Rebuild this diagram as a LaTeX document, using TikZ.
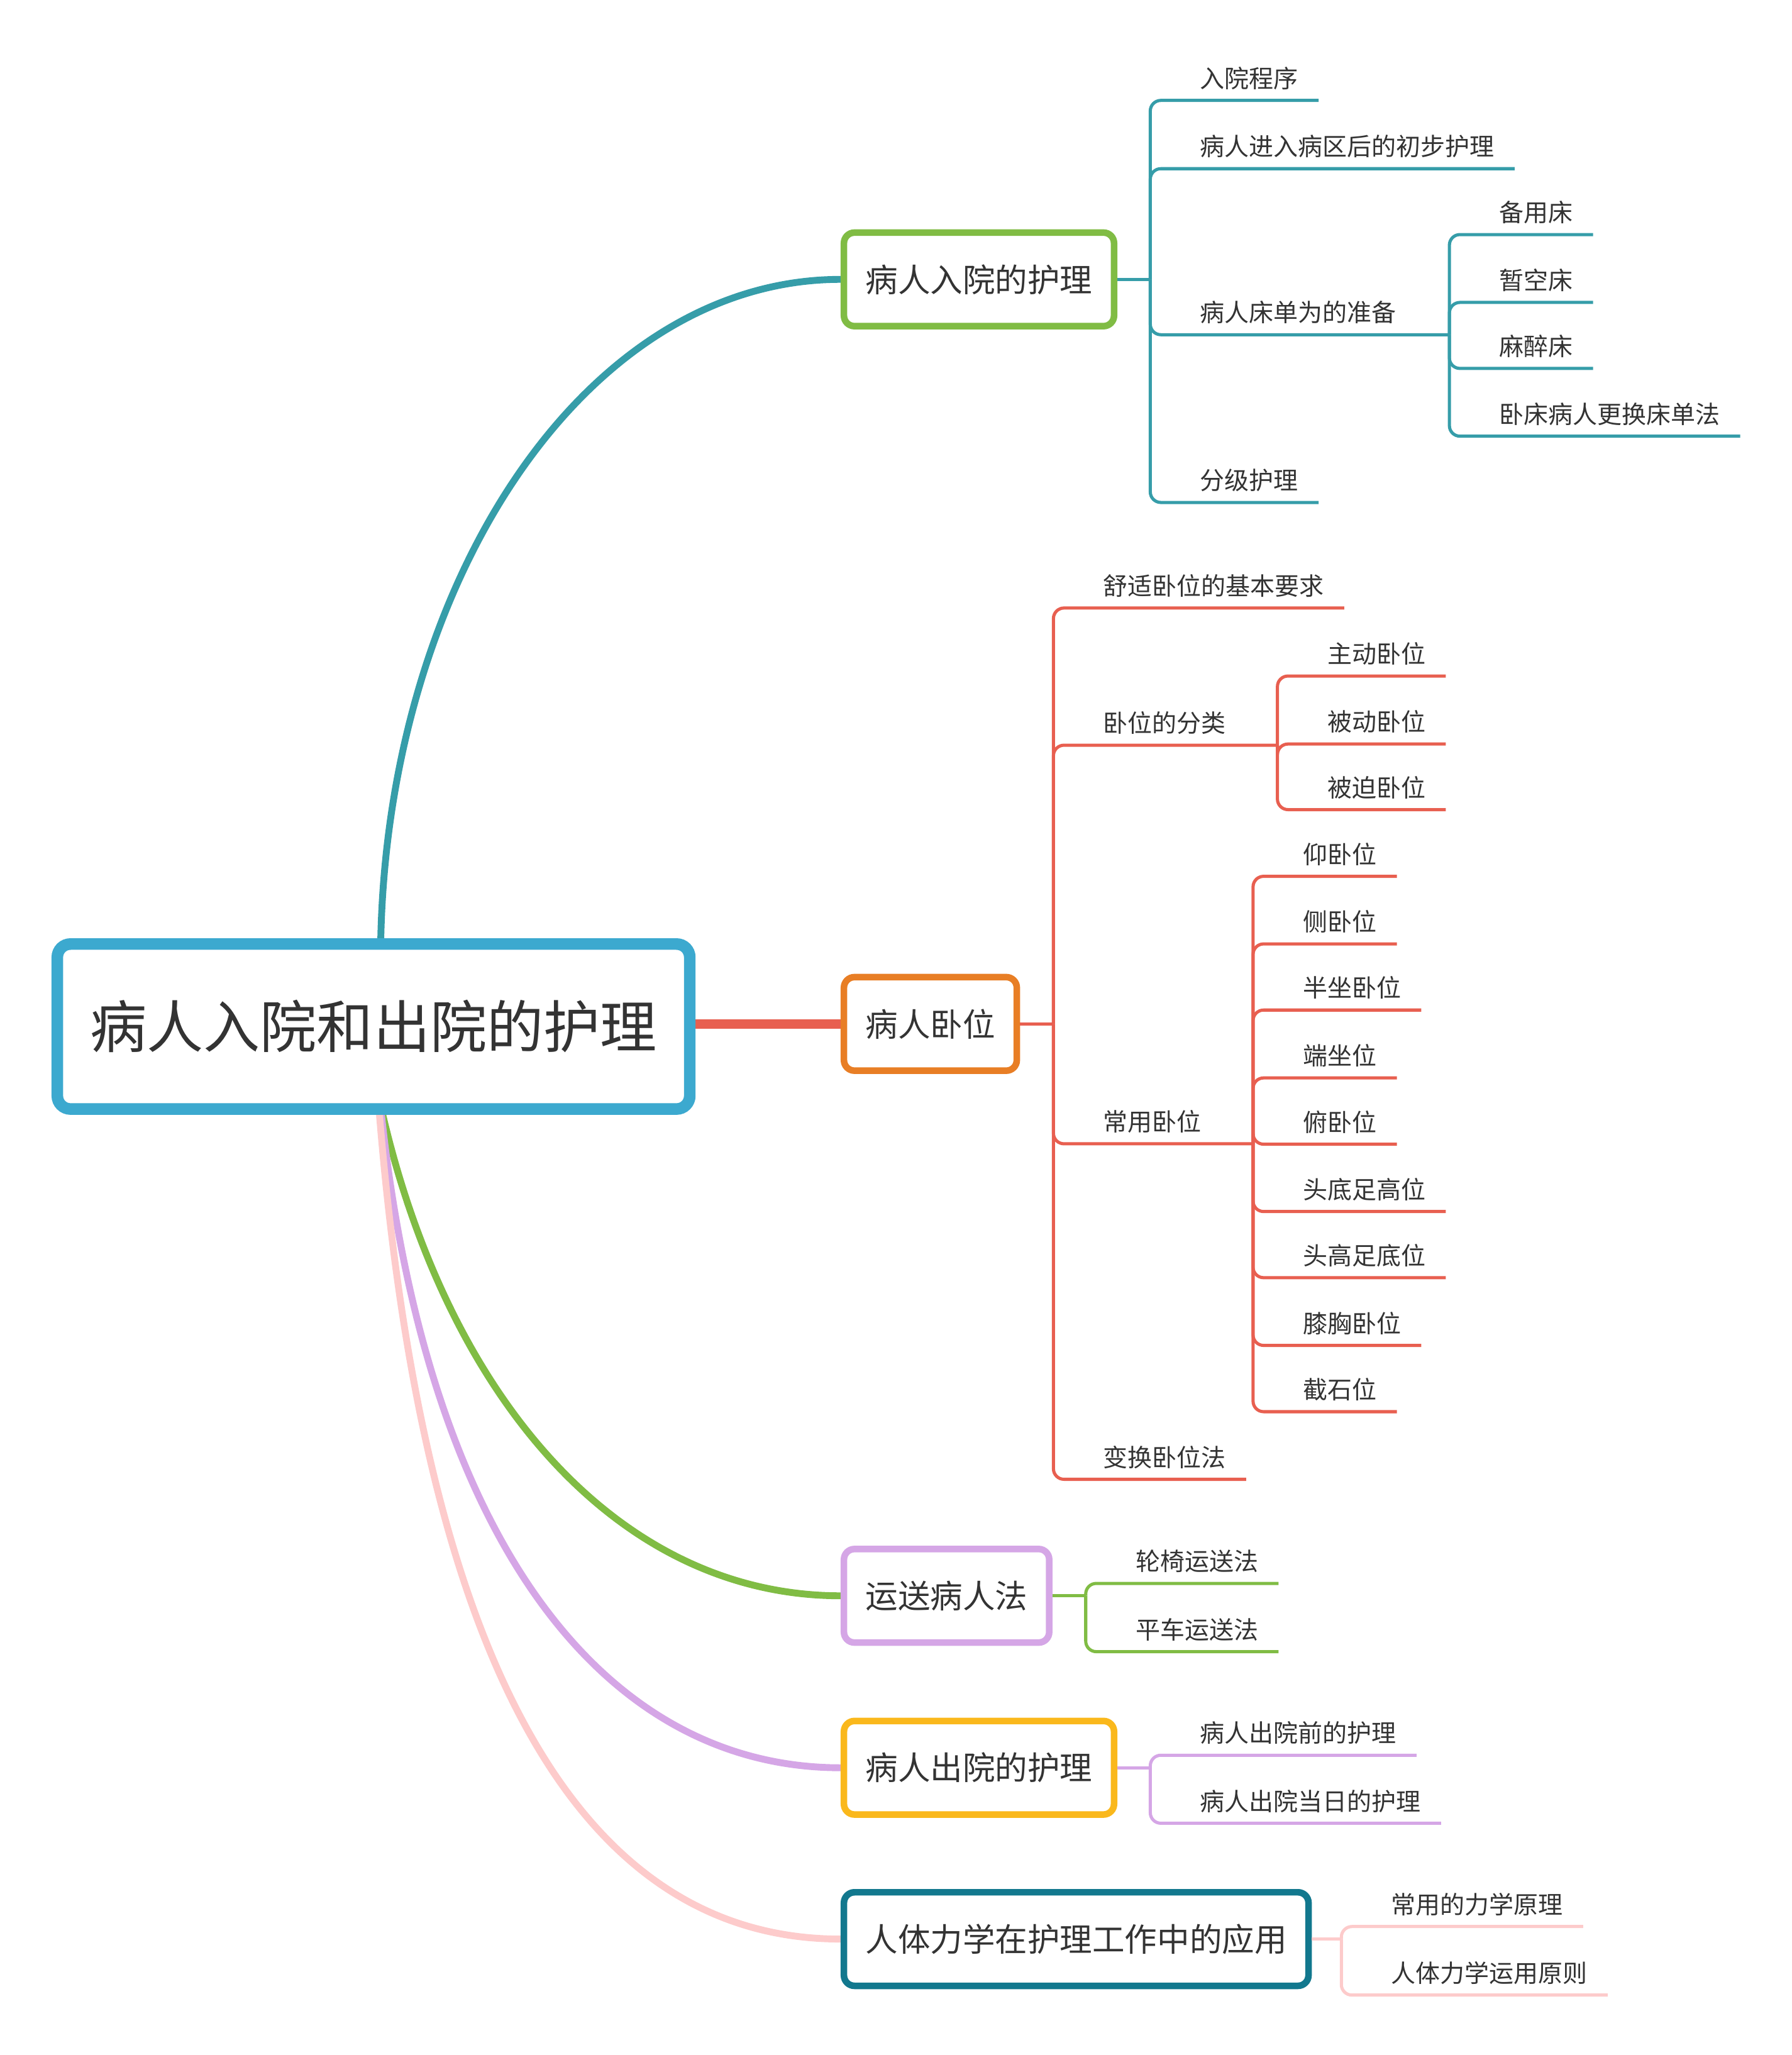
\documentclass[tikz,border=0pt]{standalone}
\usepackage{fontspec}
\setmainfont{Noto Sans CJK SC}
\usetikzlibrary{backgrounds}
\definecolor{txt}{HTML}{333333}
\definecolor{rootblue}{HTML}{3CA9CF}
\definecolor{tealc}{HTML}{369DA9}
\definecolor{greenc}{HTML}{80BC44}
\definecolor{redc}{HTML}{E85F50}
\definecolor{orangec}{HTML}{E87E25}
\definecolor{purplec}{HTML}{D5A6E6}
\definecolor{yellowc}{HTML}{FAB81C}
\definecolor{pinkc}{HTML}{FDCBCB}
\definecolor{navyc}{HTML}{12788E}
\begin{document}
\begin{tikzpicture}[x=0.5pt,y=-0.5pt,
  root/.style={draw=rootblue,line width=4.4pt,rounded corners=5pt,fill=white,minimum width=240pt,minimum height=62.6pt,font=\fontsize{21.5}{26}\selectfont,text=txt},
  topic/.style={draw=#1,line width=2.5pt,rounded corners=4pt,fill=white,minimum height=35.5pt,inner xsep=8.2pt,anchor=west,font=\fontsize{12.3}{15}\selectfont,text=txt},
  leaf/.style={anchor=south west,inner xsep=7.5pt,inner ysep=4pt,text depth=0.65pt,font=\fontsize{9.3}{11}\selectfont,text=txt},
  branch/.style={draw=#1,line width=1.2pt,rounded corners=4pt},
  curve/.style={draw=#1,line width=2.6pt}]
\useasboundingbox (0,0) rectangle (1360,1559.5);
% main topics
\node[root] (root) at (283.5,779) {病人入院和出院的护理};
\node[topic=greenc] (admit) at (638,212) {病人入院的护理};
\node[topic=orangec] (pose) at (638,777) {病人卧位};
\node[topic=purplec] (move) at (638,1211) {运送病人法};
\node[topic=yellowc] (leave) at (638,1341.5) {病人出院的护理};
\node[topic=navyc] (mech) at (638,1471.5) {人体力学在护理工作中的应用};
\begin{scope}[on background layer]
\draw[curve=tealc] ([xshift=2.75pt]root.north) .. controls (295,438) and (446,212) .. (admit.west);
\draw[curve=greenc] ([xshift=3.5pt]root.south) .. controls (341,1062) and (470,1211) .. (move.west);
\draw[curve=purplec] ([xshift=3pt]root.south) .. controls (325,1172) and (460,1341.5) .. (leave.west);
\draw[curve=pinkc] ([xshift=2.25pt]root.south) .. controls (322,1262) and (440,1471.5) .. (mech.west);
\draw[redc,line width=3.6pt] (root.east |- pose.west) -- (pose.west);
\end{scope}
% admit
\coordinate (j1) at (873,212);
\coordinate (bedj) at (1100,254);
\node[leaf] (proc) at (895.5,76.2) {入院程序};
\node[leaf] (init) at (895.5,128) {病人进入病区后的初步护理};
\node[leaf] (bed) at (895.5,254) {病人床单为的准备};
\node[leaf] (grade) at (895.5,381.3) {分级护理};
\node[leaf] (bed1) at (1122.5,178) {备用床};
\node[leaf] (bed2) at (1122.5,229.5) {暂空床};
\node[leaf] (bed3) at (1122.5,279.6) {麻醉床};
\node[leaf] (bed4) at (1122.5,331) {卧床病人更换床单法};
\draw[branch=tealc] (admit.east) -- (j1);
\draw[branch=tealc] (j1) |- (proc.south east);
\draw[branch=tealc] (j1) |- (init.south east);
\draw[branch=tealc] (j1) |- (bedj);
\draw[branch=tealc] (j1) |- (grade.south east);
\draw[branch=tealc] (bedj) |- (bed1.south east);
\draw[branch=tealc] (bedj) |- (bed2.south east);
\draw[branch=tealc] (bedj) |- (bed3.south east);
\draw[branch=tealc] (bedj) |- (bed4.south east);
% pose
\coordinate (j2) at (799.5,777);
\coordinate (kindj) at (969.5,565.5);
\coordinate (usej) at (951,868);
\node[leaf] (comfort) at (822,461.4) {舒适卧位的基本要求};
\node[leaf] (kind) at (822,565.5) {卧位的分类};
\node[leaf] (common) at (822,868) {常用卧位};
\node[leaf] (change) at (822,1122.6) {变换卧位法};
\node[leaf] (kind1) at (992,513) {主动卧位};
\node[leaf] (kind2) at (992,564.6) {被动卧位};
\node[leaf] (kind3) at (992,614.4) {被迫卧位};
\node[leaf] (pos1) at (973.5,665) {仰卧位};
\node[leaf] (pos2) at (973.5,716.3) {侧卧位};
\node[leaf] (pos3) at (973.5,766.5) {半坐卧位};
\node[leaf] (pos4) at (973.5,818) {端坐位};
\node[leaf] (pos5) at (973.5,868.3) {俯卧位};
\node[leaf] (pos6) at (973.5,919.4) {头底足高位};
\node[leaf] (pos7) at (973.5,969.6) {头高足底位};
\node[leaf] (pos8) at (973.5,1021) {膝胸卧位};
\node[leaf] (pos9) at (973.5,1071.3) {截石位};
\draw[branch=redc] (pose.east) -- (j2);
\draw[branch=redc] (j2) |- (comfort.south east);
\draw[branch=redc] (j2) |- (kindj);
\draw[branch=redc] (j2) |- (usej);
\draw[branch=redc] (j2) |- (change.south east);
\draw[branch=redc] (kindj) |- (kind1.south east);
\draw[branch=redc] (kindj) |- (kind2.south east);
\draw[branch=redc] (kindj) |- (kind3.south east);
\draw[branch=redc] (usej) |- (pos1.south east);
\draw[branch=redc] (usej) |- (pos2.south east);
\draw[branch=redc] (usej) |- (pos3.south east);
\draw[branch=redc] (usej) |- (pos4.south east);
\draw[branch=redc] (usej) |- (pos5.south east);
\draw[branch=redc] (usej) |- (pos6.south east);
\draw[branch=redc] (usej) |- (pos7.south east);
\draw[branch=redc] (usej) |- (pos8.south east);
\draw[branch=redc] (usej) |- (pos9.south east);
% move
\coordinate (j3) at (824,1211);
\node[leaf] (wheel) at (846.5,1201.6) {轮椅运送法};
\node[leaf] (cart) at (846.5,1253.4) {平车运送法};
\draw[branch=greenc] (move.east) -- (j3);
\draw[branch=greenc] (j3) |- (wheel.south east);
\draw[branch=greenc] (j3) |- (cart.south east);
% leave
\coordinate (j4) at (873,1341.5);
\node[leaf] (pre) at (895.5,1332) {病人出院前的护理};
\node[leaf] (day) at (895.5,1383.6) {病人出院当日的护理};
\draw[branch=purplec] (leave.east) -- (j4);
\draw[branch=purplec] (j4) |- (pre.south east);
\draw[branch=purplec] (j4) |- (day.south east);
% mech
\coordinate (j5) at (1018,1471.5);
\node[leaf] (prin) at (1040.5,1462) {常用的力学原理};
\node[leaf] (rule) at (1040.5,1514) {人体力学运用原则};
\draw[branch=pinkc] (mech.east) -- (j5);
\draw[branch=pinkc] (j5) |- (prin.south east);
\draw[branch=pinkc] (j5) |- (rule.south east);
\end{tikzpicture}
\end{document}
